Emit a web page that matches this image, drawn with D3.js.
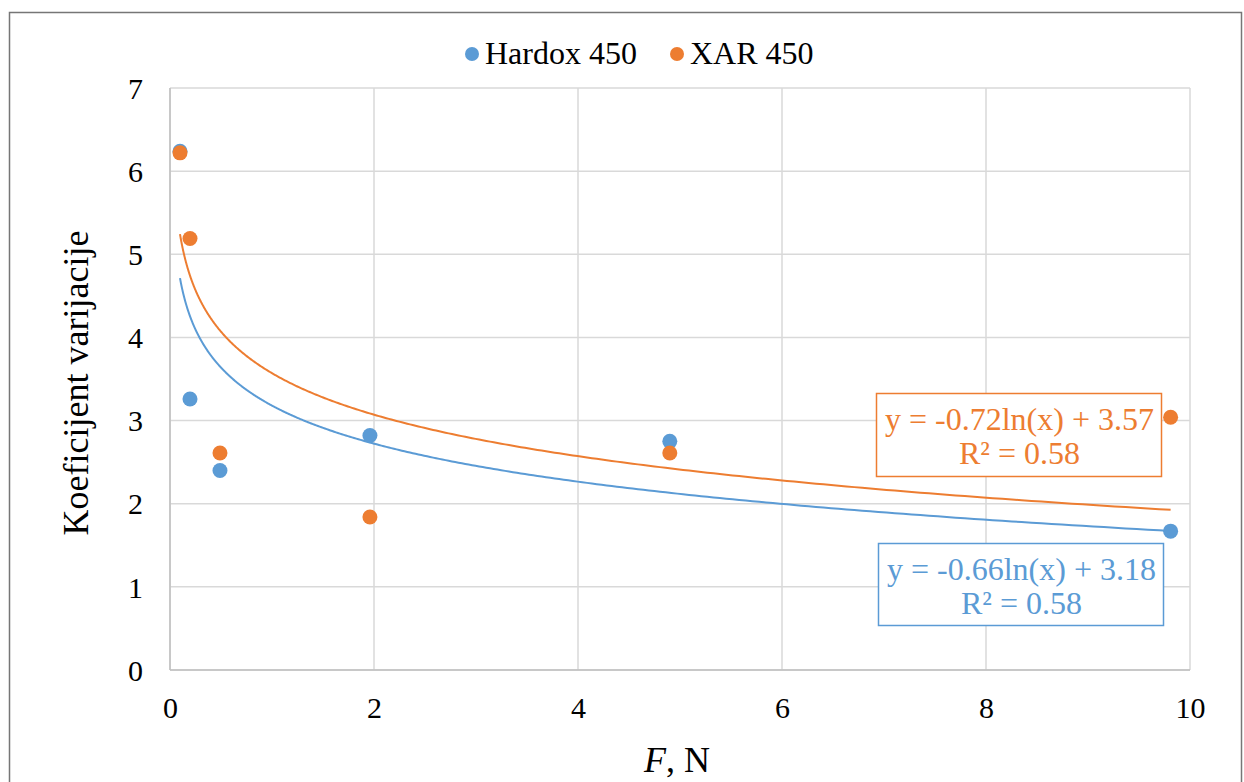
<!DOCTYPE html>
<html><head><meta charset="utf-8">
<script src="https://cdn.jsdelivr.net/npm/d3@7"></script>
<style>body{margin:0;background:#fff}svg{display:block}
svg text{font-family:"Liberation Serif","Times New Roman",serif}</style>
</head><body>
<svg id="c" width="1244" height="782"></svg>
<script>
const seriesNames = ["Hardox 450", "XAR 450"];
const seriesColors = ["#5B9BD5", "#ED7D31"];
const forceN = [0.098, 0.196, 0.49, 1.96, 4.9, 9.81];
const hardox = [6.24, 3.26, 2.40, 2.82, 2.75, 1.67];
const xar = [6.22, 5.19, 2.61, 1.84, 2.61, 3.04];
const trendA = [-0.66, -0.72];
const trendB = [3.18, 3.57];
const trendLabels = [["y = -0.66ln(x) + 3.18", "R² = 0.58"], ["y = -0.72ln(x) + 3.57", "R² = 0.58"]];
const xTicks = [0, 2, 4, 6, 8, 10];
const yTicks = [0, 1, 2, 3, 4, 5, 6, 7];

const svg = d3.select("#c");
svg.append("rect").attr("x", 9.5).attr("y", 12.5).attr("width", 1232).attr("height", 790)
  .attr("fill", "#fff").attr("stroke", "#767676").attr("stroke-width", 1.5);

const x = d3.scaleLinear().domain([0, 10]).range([170, 1190]);
const y = d3.scaleLinear().domain([0, 7]).range([670, 88]);

const g = svg.append("g");
g.selectAll(".vg").data(xTicks).join("line")
  .attr("x1", d => x(d)).attr("x2", d => x(d)).attr("y1", y(0)).attr("y2", y(7))
  .attr("stroke", "#d9d9d9").attr("stroke-width", 1.5);
g.selectAll(".hg").data(yTicks).join("line")
  .attr("x1", x(0)).attr("x2", x(10)).attr("y1", d => y(d)).attr("y2", d => y(d))
  .attr("stroke", "#d9d9d9").attr("stroke-width", 1.5);
g.append("line").attr("x1", x(0)).attr("x2", x(0)).attr("y1", y(0)).attr("y2", y(7)).attr("stroke", "#bfbfbf").attr("stroke-width", 1.5);
g.append("line").attr("x1", x(0)).attr("x2", x(10)).attr("y1", y(0)).attr("y2", y(0)).attr("stroke", "#bfbfbf").attr("stroke-width", 1.5);

const xAxis = d3.axisBottom(x).tickValues(xTicks).tickSize(0).tickPadding(0).tickFormat(d3.format("d"));
svg.append("g").attr("transform", `translate(0,${y(0)})`).call(xAxis)
  .attr("font-family", null).attr("font-size", null)
  .call(s => s.select(".domain").remove())
  .selectAll("text").attr("y", 48).attr("dy", 0).style("font-size", "30px").attr("fill", "#000");
const yAxis = d3.axisLeft(y).tickValues(yTicks).tickSize(0).tickPadding(0).tickFormat(d3.format("d"));
svg.append("g").attr("transform", `translate(${x(0)},0)`).call(yAxis)
  .attr("font-family", null).attr("font-size", null)
  .call(s => s.select(".domain").remove())
  .selectAll("text").attr("x", -27).attr("dy", "0.34em").style("font-size", "30px").attr("fill", "#000");

// trendlines
const allSeries = [hardox, xar];
allSeries.forEach((vals, i) => {
  const xs = d3.range(0, 401).map(k => forceN[0] * Math.pow(forceN[5] / forceN[0], k / 400));
  const line = d3.line().x(d => x(d)).y(d => y(trendA[i] * Math.log(d) + trendB[i]));
  svg.append("path").datum(xs).attr("d", line).attr("fill", "none")
    .attr("stroke", seriesColors[i]).attr("stroke-width", 2);
});
// points
allSeries.forEach((vals, i) => {
  svg.selectAll(".p" + i).data(vals).join("circle")
    .attr("cx", (d, k) => x(forceN[k])).attr("cy", d => y(d)).attr("r", 7.5)
    .attr("fill", seriesColors[i]);
});

// trend label boxes
const boxes = [{x: 878, y: 543, w: 285, h: 82}, {x: 876, y: 393, w: 285, h: 83}];
boxes.forEach((b, i) => {
  svg.append("rect").attr("x", b.x + 0.5).attr("y", b.y + 0.5).attr("width", b.w).attr("height", b.h)
    .attr("fill", "#fff").attr("stroke", seriesColors[i]).attr("stroke-width", 1.5);
  trendLabels[i].forEach((t, j) => {
    svg.append("text").attr("x", b.x + b.w / 2 + 1).attr("y", b.y + 37 + j * 34)
      .attr("text-anchor", "middle").style("font-size", "32px")
      .attr("fill", seriesColors[i]).text(t);
  });
});

// legend
const leg = [{cx: 472, tx: 485}, {cx: 677, tx: 690}];
seriesNames.forEach((n, i) => {
  svg.append("circle").attr("cx", leg[i].cx).attr("cy", 54).attr("r", 7).attr("fill", seriesColors[i]);
  svg.append("text").attr("x", leg[i].tx).attr("y", 64).style("font-size", "32px")
    .attr("fill", "#000").text(n);
});

// axis titles
svg.append("text").attr("transform", `translate(88,${y(3.5) + 4}) rotate(-90)`).attr("text-anchor", "middle")
  .style("font-size", "36px").attr("fill", "#000").text("Koeficijent varijacije");
const xt = svg.append("text").attr("x", x(5) - 3).attr("y", 772).attr("text-anchor", "middle")
  .style("font-size", "36px").attr("fill", "#000");
xt.append("tspan").style("font-style", "italic").text("F");
xt.append("tspan").text(", N");
</script>
</body></html>
